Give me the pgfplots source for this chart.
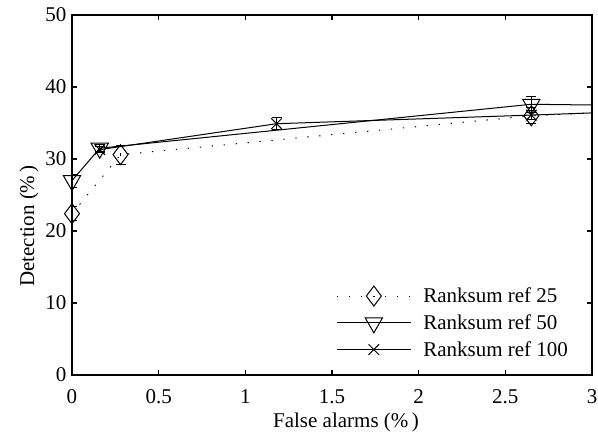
\documentclass[border=0pt]{standalone}
\usepackage{pgfplots}
\pgfplotsset{compat=1.18}
\usepackage{fontspec}
\setmainfont{Liberation Serif}

% ROC-like curves, false alarms vs detection, three reference sizes
\begin{document}
\begin{tikzpicture}[font=\fontsize{21bp}{25bp}\selectfont]
\useasboundingbox (-72bp,-59bp) rectangle (526bp,375bp);
\begin{axis}[
  scale only axis,
  width=520bp, height=360bp,
  xmin=0, xmax=3, ymin=0, ymax=50,
  xtick={0,0.5,...,3}, ytick={0,10,...,50},
  xticklabels={0,0.5,1,1.5,2,2.5,3},
  /pgf/number format/assume math mode=true,
  tick align=inside,
  major tick length=5bp,
  axis line style={line width=1.2bp},
  every tick/.style={line width=1.2bp, black},
  xticklabel style={yshift=-11bp},
  yticklabel style={xshift=-2bp},
  xlabel={False alarms (\%\,)},
  ylabel={Detection (\%\,)},
  xlabel style={at={(ticklabel cs:0.527)}, yshift=-2bp},
  ylabel style={at={(ticklabel cs:0.414)}},
  legend cell align=left,
  legend style={draw=none, fill=none, at={(rel axis cs:0.508,0.248)},
    anchor=north west, row sep=6.5bp, inner sep=0pt},
  legend image code/.code={\draw[mark repeat=2,mark phase=2,#1]
    plot coordinates {(0bp,0bp) (37bp,0bp) (74bp,0bp)};
    \path (84bp,0bp);},
  error bars/error bar style={line width=1bp},
  error bars/error mark options={rotate=90, mark size=5bp, line width=1bp},
]
\addplot[black, line width=1bp, dash pattern=on 1.3bp off 10.7bp,
  mark=diamond, mark size=10bp, mark options={solid, line width=1bp},
  error bars/.cd, y dir=both, y explicit]
  table[y error=e] {
x    y    e
0    22.4 1.0
0.28 30.6 1.3
2.65 36.0 1.1
3.5  36.97 0
};
\addlegendentry{Ranksum ref 25}
\addplot[black, line width=1bp,
  mark=triangle, mark size=10bp, mark options={rotate=180, line width=1bp},
  error bars/.cd, y dir=both, y explicit]
  table[y error=e] {
x    y    e
0    27.0 0.9
0.16 31.5 0.5
2.65 37.6 1.1
3.5  37.36 0
};
\addlegendentry{Ranksum ref 50}
\addplot[black, line width=1bp,
  mark=x, mark size=7.5bp, mark options={line width=1bp},
  error bars/.cd, y dir=both, y explicit]
  table[y error=e] {
x    y    e
0.16 31.3 0.4
1.18 34.9 0.8
2.65 36.1 0.6
3.5  36.83 0
};
\addlegendentry{Ranksum ref 100}
\end{axis}
\end{tikzpicture}
\end{document}
